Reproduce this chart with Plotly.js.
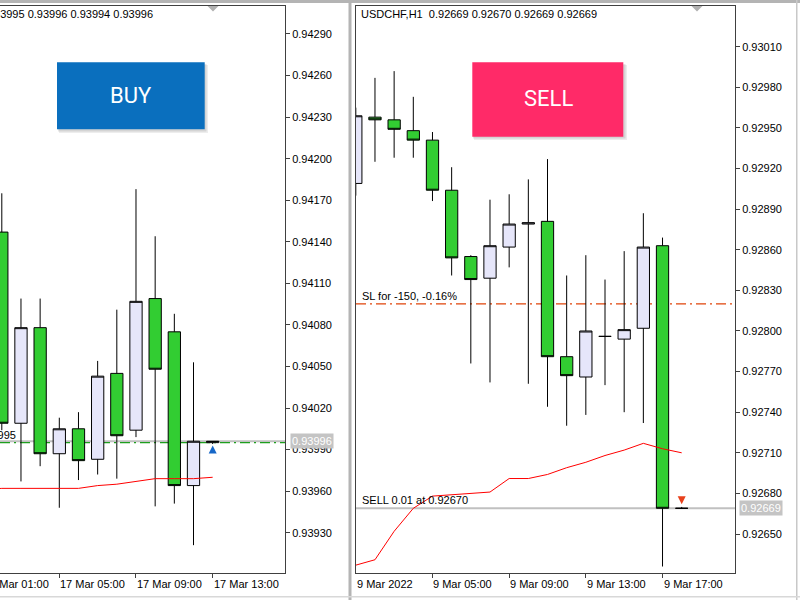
<!DOCTYPE html>
<html><head><meta charset="utf-8">
<script src="https://cdn.plot.ly/plotly-3.0.1.min.js"></script>
<style>html,body{margin:0;padding:0;background:#fff;overflow:hidden}#chart{width:800px;height:600px}</style>
</head><body><div id="chart"></div>
<script>
// ===== Left panel: USDCHF H1, 17 Mar (bar index 0 = 02:00) =====
const leftIdx   = [0,1,2,3,4,5,6,7,8,9,10,11];
const leftOpen  = [0.94147,0.94009,0.94078,0.93987,0.94005,0.93983,0.94045,0.94004,0.94099,0.94075,0.93964,0.93995];
const leftHigh  = [0.94175,0.94099,0.94099,0.94013,0.94017,0.94054,0.94091,0.94178,0.94144,0.94088,0.94053,0.93996];
const leftLow   = [0.94004,0.93967,0.93978,0.93948,0.93968,0.93972,0.93969,0.93999,0.93949,0.93951,0.93921,0.93994];
const leftClose = [0.94009,0.94078,0.93987,0.94005,0.93982,0.94043,0.94000,0.94097,0.94048,0.93964,0.93996,0.93996];
const leftMAIdx = [-1,0,1,2,3,4,5,6,7,8,9,10,11];
const leftMA    = [0.93961,0.93962,0.93962,0.93962,0.93962,0.93962,0.93964,0.93965,0.93967,0.93969,0.93969,0.93969,0.93970];
const leftYTicks = [0.93930,0.93960,0.93990,0.94020,0.94050,0.94080,0.94110,0.94140,0.94170,0.94200,0.94230,0.94260,0.94290];
const leftXTickIdx = [-1,3,7,11];
const leftXTickText = ['17 Mar 01:00','17 Mar 05:00','17 Mar 09:00','17 Mar 13:00'];
const leftHeader = 'USDCHF,H1\u00a0\u00a00.93995 0.93996 0.93994 0.93996';
const leftBid = 0.93996;
const leftBuyPrice = 0.93995;
const leftBuyLabel = 'BUY 0.01 at 0.93995';
const leftArrowIdx = [11];
const leftArrowPrice = [0.93993];

// ===== Right panel: USDCHF H1, 9 Mar 2022 (bar index 0 = first bar) =====
const rightIdx   = [0,1,2,3,4,5,6,7,8,9,10,11,12,13,14,15,16,17];
const rightOpen  = [0.92909,0.92958,0.92956,0.92948,0.92941,0.92904,0.92855,0.92839,0.92862,0.92879,0.92881,0.92781,0.92766,0.92796,0.92794,0.92802,0.92863,0.92669];
const rightHigh  = [0.92965,0.92987,0.92992,0.92973,0.92947,0.92921,0.92856,0.92897,0.92901,0.92912,0.92927,0.92841,0.92856,0.92838,0.92859,0.92887,0.92869,0.92670];
const rightLow   = [0.92900,0.92925,0.92928,0.92928,0.92896,0.92841,0.92776,0.92762,0.92847,0.92761,0.92744,0.92730,0.92738,0.92760,0.92740,0.92732,0.92626,0.92669];
const rightClose = [0.92959,0.92956,0.92949,0.92941,0.92904,0.92854,0.92838,0.92863,0.92879,0.92880,0.92781,0.92767,0.92800,0.92796,0.92801,0.92862,0.92669,0.92669];
const rightMA    = [0.92627,0.92631,0.92652,0.92669,0.92678,0.92679,0.92680,0.92681,0.92691,0.92691,0.92694,0.92699,0.92703,0.92708,0.92712,0.92717,0.92713,0.92710];
const rightYTicks = [0.92650,0.92680,0.92710,0.92740,0.92770,0.92800,0.92830,0.92860,0.92890,0.92920,0.92950,0.92980,0.93010];
const rightXTickIdx = [0,4,8,12,16];
const rightXTickText = ['9 Mar 2022','9 Mar 05:00','9 Mar 09:00','9 Mar 13:00','9 Mar 17:00'];
const rightHeader = 'USDCHF,H1\u00a0\u00a00.92669 0.92670 0.92669 0.92669';
const rightBid = 0.92669;
const rightSL = 0.92820;
const rightSLLabel = 'SL for -150, -0.16%';
const rightSellLabel = 'SELL 0.01 at 0.92670';
const rightArrowIdx = [17];
const rightArrowPrice = [0.92672];

// ===== layout helpers (pixel -> paper) =====
const W = 800, H = 600;
const px = x => x / W;
const py = y => 1 - y / H;
const yDom = [py(573), py(6)];
const lDom = [0, px(285)], lRange = [-0.094, 14.773];
const rDom = [px(356), px(735)], rRange = [0.0104, 19.781];
const lYRange = [0.939009, 0.943102];
const rYRange = [0.926212, 0.930401];
const toPaper = (dom, rng, v) => dom[0] + (v - rng[0]) / (rng[1] - rng[0]) * (dom[1] - dom[0]);

const FONT = 'Liberation Sans, Arial, sans-serif';
const FRAME = '#404040';
const UP = '#E6E6FA', DN = '#32CD32';

const candle = (x, o, h, l, c, xa, ya) => ({
  type: 'candlestick', x: x, open: o, high: h, low: l, close: c,
  xaxis: xa, yaxis: ya, whiskerwidth: 0, hoverinfo: 'skip', showlegend: false,
  increasing: {fillcolor: UP, line: {color: '#000000', width: 1}},
  decreasing: {fillcolor: DN, line: {color: '#000000', width: 1}}
});

const data = [
  {type: 'scatter', mode: 'lines', x: leftMAIdx, y: leftMA, xaxis: 'x', yaxis: 'y',
   line: {color: '#FF0000', width: 1}, hoverinfo: 'skip', showlegend: false},
  candle(leftIdx, leftOpen, leftHigh, leftLow, leftClose, 'x', 'y'),
  {type: 'scatter', mode: 'markers', x: leftArrowIdx, y: leftArrowPrice, xaxis: 'x', yaxis: 'y',
   marker: {symbol: 'arrow-up', size: 8, color: '#1667C8'}, hoverinfo: 'skip', showlegend: false},
  {type: 'scatter', mode: 'lines', x: rightIdx, y: rightMA, xaxis: 'x2', yaxis: 'y2',
   line: {color: '#FF0000', width: 1}, hoverinfo: 'skip', showlegend: false},
  candle(rightIdx, rightOpen, rightHigh, rightLow, rightClose, 'x2', 'y2'),
  {type: 'scatter', mode: 'markers', x: rightArrowIdx, y: rightArrowPrice, xaxis: 'x2', yaxis: 'y2',
   marker: {symbol: 'arrow-down', size: 8, color: '#E8411C'}, hoverinfo: 'skip', showlegend: false}
];

const xax = (dom, rng, anchor, ticks) => ({
  domain: dom, range: rng, anchor: anchor, showgrid: false, zeroline: false,
  showline: true, mirror: true, linecolor: FRAME, linewidth: 1,
  tickmode: 'array', tickvals: ticks, ticks: 'outside', ticklen: 4, tickcolor: FRAME,
  showticklabels: false, rangeslider: {visible: false}, fixedrange: true
});
const yax = (rng, anchor, ticks, mirror) => ({
  domain: yDom, range: rng, anchor: anchor, side: 'right', showgrid: false, zeroline: false,
  showline: true, mirror: mirror, linecolor: FRAME, linewidth: 1,
  tickmode: 'array', tickvals: ticks, tickformat: '.5f', ticks: 'outside', ticklen: 4, tickcolor: FRAME,
  tickfont: {family: FONT, size: 11, color: '#000'}, fixedrange: true
});

const annotations = [];
const txt = (o) => Object.assign({showarrow: false, font: {family: FONT, size: 11, color: '#000'}}, o);

leftXTickIdx.forEach((v, i) => annotations.push(txt({
  xref: 'paper', yref: 'paper', x: toPaper(lDom, lRange, v), y: py(584),
  xanchor: 'left', yanchor: 'middle', xshift: -1, text: leftXTickText[i]})));
rightXTickIdx.forEach((v, i) => annotations.push(txt({
  xref: 'paper', yref: 'paper', x: toPaper(rDom, rRange, v), y: py(584),
  xanchor: 'left', yanchor: 'middle', xshift: -1, text: rightXTickText[i]})));

annotations.push(txt({xref: 'paper', yref: 'paper', x: px(155), y: py(14), xanchor: 'right', yanchor: 'middle', text: leftHeader}));
annotations.push(txt({xref: 'paper', yref: 'paper', x: px(359), y: py(14), xanchor: 'left', yanchor: 'middle', text: rightHeader}));
annotations.push(txt({xref: 'paper', yref: 'y', x: px(18), y: leftBuyPrice, xanchor: 'right', yanchor: 'bottom', text: leftBuyLabel}));
annotations.push(txt({xref: 'paper', yref: 'y2', x: px(360), y: rightSL, xanchor: 'left', yanchor: 'bottom', text: rightSLLabel}));
annotations.push(txt({xref: 'paper', yref: 'y2', x: px(360), y: rightBid, xanchor: 'left', yanchor: 'bottom', text: rightSellLabel}));
annotations.push(txt({xref: 'paper', yref: 'y', x: px(290), y: leftBid, xanchor: 'left', yanchor: 'middle',
  text: leftBid.toFixed(5), bgcolor: '#C4C4C4', borderpad: 1, font: {family: FONT, size: 11, color: '#FFFFFF'}}));
annotations.push(txt({xref: 'paper', yref: 'y2', x: px(739), y: rightBid, xanchor: 'left', yanchor: 'middle',
  text: rightBid.toFixed(5), bgcolor: '#C4C4C4', borderpad: 1, font: {family: FONT, size: 11, color: '#FFFFFF'}}));
annotations.push({xref: 'paper', yref: 'paper', x: px(131), y: py(95), xanchor: 'center', yanchor: 'middle',
  text: 'BUY', showarrow: false, font: {family: 'Roboto, Open Sans, sans-serif', size: 22, color: '#FFFFFF'}});
annotations.push({xref: 'paper', yref: 'paper', x: px(548), y: py(98), xanchor: 'center', yanchor: 'middle',
  text: 'SELL', showarrow: false, font: {family: 'Roboto, Open Sans, sans-serif', size: 22, color: '#FFFFFF'}});

const rect = (x0, y0, x1, y1, fill, layer) => ({type: 'rect', xref: 'paper', yref: 'paper',
  x0: px(x0), x1: px(x1), y0: py(y1), y1: py(y0), fillcolor: fill, line: {width: 0}, layer: layer || 'above'});
const tri = (cx, fill) => ({type: 'path', xref: 'paper', yref: 'paper',
  path: `M ${px(cx-5.5)} ${py(6)} L ${px(cx+5.5)} ${py(6)} L ${px(cx)} ${py(11.5)} Z`, fillcolor: fill, line: {width: 0}});
const hline = (xref, yref, y, color, width, dash, layer) => ({type: 'line', xref: xref, yref: yref,
  x0: 0, x1: 1, y0: y, y1: y, line: {color: color, width: width, dash: dash}, layer: layer || 'above'});

const shapes = [
  // window chrome
  rect(0, 0, 800, 3, '#B4B4B4'),
  rect(348.5, 0, 351.5, 600, '#B4B4B4'),
  rect(796, 0, 797.5, 600, '#C8C8C8'),
  rect(0, 596, 800, 597.5, '#D8D8D8'),
  // chart shift markers
  tri(213, '#B0B0B0'), tri(697, '#B0B0B0'),
  // price lines
  hline('x domain', 'y', leftBid, '#C0C0C0', 2, 'solid', 'below'),
  hline('x domain', 'y', leftBuyPrice, '#1E9E1E', 1.3, '10px,4px,2px,4px', 'below'),
  hline('x2 domain', 'y2', rightSL, '#E0440A', 1.4, '10px,4px,2px,4px', 'below'),
  hline('x2 domain', 'y2', rightBid, '#C0C0C0', 2, 'solid', 'below'),
  // button shadows + buttons
  rect(59, 65, 208, 133, 'rgba(0,0,0,0.07)'),
  rect(58, 64, 206.5, 131.5, 'rgba(0,0,0,0.10)'),
  rect(57, 62.3, 204.7, 129.3, '#0A6FBE'),
  rect(474, 65, 627, 140, 'rgba(0,0,0,0.07)'),
  rect(473, 64, 625.5, 138.5, 'rgba(0,0,0,0.10)'),
  rect(472.3, 62.3, 623.3, 136.7, '#FF2A68')
];

const layout = {
  width: W, height: H, margin: {l: 0, r: 0, t: 0, b: 0},
  paper_bgcolor: '#FFFFFF', plot_bgcolor: '#FFFFFF', showlegend: false,
  boxgap: 0.36, boxgroupgap: 0, dragmode: false, hovermode: false,
  xaxis: xax(lDom, lRange, 'y', leftXTickIdx),
  yaxis: yax(lYRange, 'x', leftYTicks, false),
  xaxis2: xax(rDom, rRange, 'y2', rightXTickIdx),
  yaxis2: yax(rYRange, 'x2', rightYTicks, true),
  shapes: shapes, annotations: annotations
};

Plotly.newPlot('chart', data, layout, {staticPlot: true, displayModeBar: false});
</script></body></html>
